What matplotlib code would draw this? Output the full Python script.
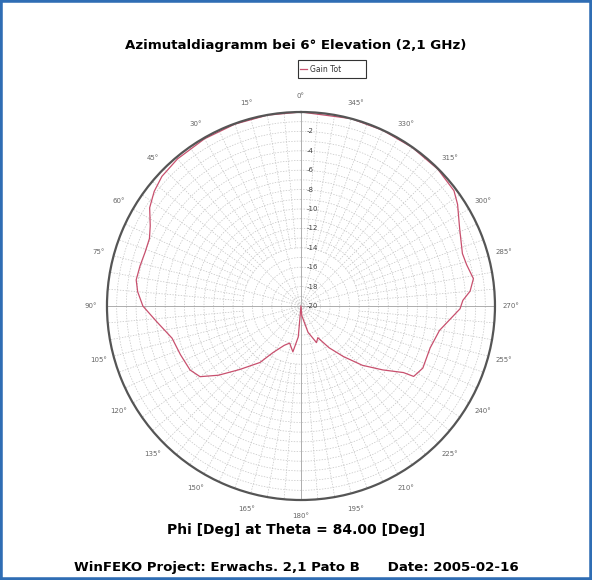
import numpy as np
import matplotlib
matplotlib.use('Agg')
import matplotlib.pyplot as plt
from matplotlib.patches import Rectangle
from matplotlib.lines import Line2D

plt.rcParams['font.family'] = ['DejaVu Sans']

# phi [deg] (counter-clockwise from top) and total gain [dB]
phi_deg = [0, 10, 20, 30, 40, 47, 52, 57, 62, 66, 71, 76, 81, 85, 90, 96, 104, 112,
           120, 125, 130, 136, 144, 149, 157, 163, 170, 175, 180, 185, 195, 203, 208,
           214, 220, 226, 232, 237, 238, 243, 252, 260, 269, 272, 275, 279, 284, 288,
           296, 303, 307, 315, 325, 335, 345, 360]
gain_tot = [0.0, -0.02, -0.05, -0.1, -0.2, -0.4, -0.8, -1.4, -2.4, -2.9, -3.0, -2.9,
            -2.8, -3.1, -3.7, -5.0, -6.3, -6.6, -6.8, -7.3, -8.9, -10.9, -12.8, -14.4,
            -15.6, -16.0, -15.2, -16.8, -20.0, -19.0, -17.2, -15.9, -16.3, -14.8, -13.2,
            -11.2, -9.3, -7.4, -6.3, -5.9, -6.0, -5.5, -3.6, -3.3, -2.5, -2.0, -2.4,
            -2.5, -1.8, -0.75, -0.25, -0.05, -0.03, -0.02, 0.0, 0.0]

r_labels = [-2, -4, -6, -8, -10, -12, -14, -16, -18, -20]
theta_labels = [f'{a}\u00b0' for a in range(0, 360, 15)]

fig = plt.figure(figsize=(5.92, 5.80), dpi=100)
fig.patch.set_facecolor('white')

ax = fig.add_axes([0.1807, 0.1379, 0.6554, 0.669], projection='polar')
ax.set_theta_zero_location('N')
ax.set_theta_direction(1)
ax.set_ylim(-20, 0)

# rings each dB
ax.set_yticks(np.arange(-20, 1, 1))
ax.set_yticklabels([])
ax.set_xticks(np.deg2rad(np.arange(0, 360, 15)))
ax.set_xticklabels(theta_labels, fontsize=5, color='#666666')
ax.tick_params(axis='x', pad=1)
ax.grid(True, color='#c4c4c4', linestyle=(0, (2, 2)), linewidth=0.5)
ax.xaxis.grid(False)

# spokes: 15 deg through centre, 5 deg only on the outer part
for a in range(0, 360, 5):
    r0 = -20 if a % 15 == 0 else -14
    if a % 90 == 0:
        ax.plot([np.deg2rad(a)] * 2, [-20, 0], color='#a0a0a0', lw=0.6)
    else:
        ax.plot([np.deg2rad(a)] * 2, [r0, 0], color='#c4c4c4', lw=0.5,
                linestyle=(0, (2, 2)))
ax.spines['polar'].set_color('#555555')
ax.spines['polar'].set_linewidth(1.6)

for v in r_labels:
    ax.annotate(str(v), xy=(0, v), xytext=(4, 0), textcoords='offset points',
                fontsize=5, color='#444444', ha='left', va='center')

ax.plot(np.deg2rad(phi_deg), gain_tot, color='#c8506e', lw=0.9)

fig.text(0.5, 0.922, 'Azimutaldiagramm bei 6\u00b0 Elevation (2,1 GHz)',
         ha='center', va='center', fontsize=9.6, fontweight='bold')
fig.text(0.5, 0.086, 'Phi [Deg] at Theta = 84.00 [Deg]',
         ha='center', va='center', fontsize=10, fontweight='bold')
fig.text(0.5, 0.022, 'WinFEKO Project: Erwachs. 2,1 Pato B      Date: 2005-02-16',
         ha='center', va='center', fontsize=9.6, fontweight='bold')

# legend box
lx0, ly0, lw_, lh_ = 298 / 592, 1 - 78 / 580, 68 / 592, 18 / 580
fig.patches.append(Rectangle((lx0, ly0), lw_, lh_, transform=fig.transFigure,
                             facecolor='white', edgecolor='#333333', lw=0.8))
fig.lines.append(Line2D([lx0 + 0.004, lx0 + 0.016], [ly0 + lh_ / 2] * 2,
                        transform=fig.transFigure, color='#c8506e', lw=0.9))
fig.text(lx0 + 0.02, ly0 + lh_ / 2, 'Gain Tot', fontsize=5.5, va='center', ha='left',
         color='#333333')

# blue frame
fig.patches.append(Rectangle((0, 0), 1, 1, transform=fig.transFigure, fill=False,
                             edgecolor='#2f6db4', lw=4))

fig.savefig('out.png', dpi=100)
